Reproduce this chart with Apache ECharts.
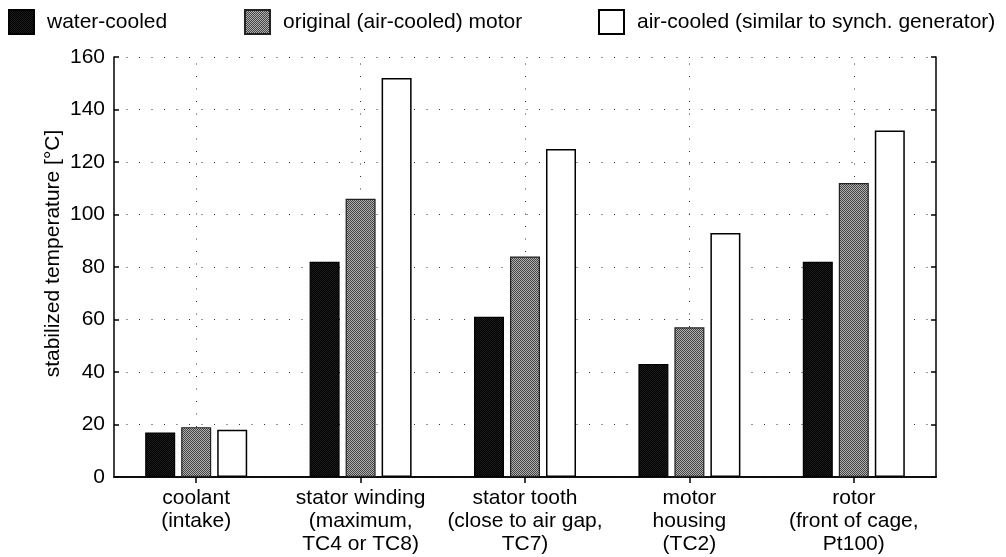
<!DOCTYPE html>
<html><head><meta charset="utf-8">
<script src="https://cdn.jsdelivr.net/npm/echarts@6/dist/echarts.min.js"></script>
<style>html,body{margin:0;padding:0;background:#fff}#c{width:1006px;height:557px}</style>
</head><body><div id="c"></div>
<script>
const categories = ['coolant\n(intake)', 'stator winding\n(maximum,\nTC4 or TC8)', 'stator tooth\n(close to air gap,\nTC7)', 'motor\nhousing\n(TC2)', 'rotor\n(front of cage,\nPt100)'];
const seriesNames = ['water-cooled', 'original (air-cooled) motor', 'air-cooled (similar to synch. generator)'];
const waterCooled = [17, 82, 61, 43, 82];
const originalMotor = [19, 106, 84, 57, 112];
const airCooledSynch = [18, 152, 125, 93, 132];
const yMin = 0, yMax = 160, yStep = 20;
const yName = 'stabilized temperature [°C]';

const FONT = "'Liberation Sans', Arial, sans-serif";

function makePattern(c1, c2) {
  const cv = document.createElement('canvas');
  cv.width = 2; cv.height = 2;
  const ctx = cv.getContext('2d');
  ctx.fillStyle = c1; ctx.fillRect(0, 0, 2, 2);
  ctx.fillStyle = c2; ctx.fillRect(0, 0, 1, 1); ctx.fillRect(1, 1, 1, 1);
  return { image: cv, repeat: 'repeat' };
}

const grayFill = makePattern('#b0b0b0', '#444444');
const blackFill = makePattern('#000000', '#1c1c1c');

const chart = echarts.init(document.getElementById('c'), null, { renderer: 'canvas' });
const dotted = { type: [1, 11.5], color: '#333', width: 1 };
const axisLine = { show: true, lineStyle: { color: '#000', width: 1.5 } };

function legendFor(i, left) {
  return {
    data: [seriesNames[i]], left: left, top: 4, icon: 'rect',
    itemWidth: 25, itemHeight: 24, selectedMode: false,
    textStyle: { fontSize: 21, color: '#000', fontFamily: FONT, padding: [0, 0, 0, 8] }
  };
}

const barCommon = { type: 'bar', barWidth: 30, barGap: '20%', z: 10, xAxisIndex: 0, yAxisIndex: 0 };

chart.setOption({
  animation: false,
  backgroundColor: '#fff',
  textStyle: { fontFamily: FONT },
  legend: [legendFor(0, 3), legendFor(1, 239), legendFor(2, 593)],
  grid: { left: 114, right: 70, top: 57, bottom: 80, containLabel: false, outerBoundsMode: 'none' },
  xAxis: [
    {
      type: 'category', data: categories, position: 'bottom',
      axisLine: axisLine,
      axisTick: { show: true, inside: true, alignWithLabel: true, length: 5, lineStyle: { color: '#000', width: 1.5 } },
      axisLabel: { interval: 0, fontSize: 21, lineHeight: 23, margin: 10, color: '#000', fontFamily: FONT },
      splitLine: { show: false }
    },
    {
      type: 'category', data: categories, position: 'top',
      axisLine: axisLine,
      axisTick: { show: true, inside: true, alignWithLabel: true, length: 6, lineStyle: { color: '#000', width: 1.5 } },
      axisLabel: { show: false },
      splitLine: { show: false }
    }
  ],
  yAxis: [
    {
      type: 'value', min: yMin, max: yMax, interval: yStep, position: 'left',
      name: yName, nameLocation: 'middle', nameGap: 50, nameMoveOverlap: false,
      nameTextStyle: { fontSize: 21, color: '#000', fontFamily: FONT, padding: [0, 0, 0, 27] },
      axisLine: axisLine,
      axisTick: { show: true, inside: true, length: 5, lineStyle: { color: '#000', width: 1.5 } },
      axisLabel: { fontSize: 21, margin: 9, color: '#000', fontFamily: FONT },
      splitLine: { show: true, lineStyle: dotted }
    },
    {
      type: 'value', min: yMin, max: yMax, interval: yStep, position: 'right',
      axisLine: axisLine,
      axisTick: { show: true, inside: true, length: 5, lineStyle: { color: '#000', width: 1.5 } },
      axisLabel: { show: false },
      splitLine: { show: false }
    }
  ],
  series: [
    Object.assign({}, barCommon, {
      name: seriesNames[0], data: waterCooled,
      itemStyle: { color: blackFill, borderColor: '#000', borderWidth: 1.2 }
    }),
    Object.assign({}, barCommon, {
      name: seriesNames[1], data: originalMotor,
      itemStyle: { color: grayFill, borderColor: '#222', borderWidth: 1.2 }
    }),
    Object.assign({}, barCommon, {
      name: seriesNames[2], data: airCooledSynch,
      itemStyle: { color: '#fff', borderColor: '#000', borderWidth: 1.5 }
    }),
    {
      type: 'line', name: 'vgrid', data: [], z: 1, xAxisIndex: 0, yAxisIndex: 0,
      silent: true,
      markLine: {
        silent: true, symbol: 'none', z: 1, animation: false,
        label: { show: false },
        lineStyle: dotted,
        emphasis: { disabled: true },
        data: categories.map(c => ({ xAxis: c }))
      }
    }
  ]
});
</script>
</body></html>
